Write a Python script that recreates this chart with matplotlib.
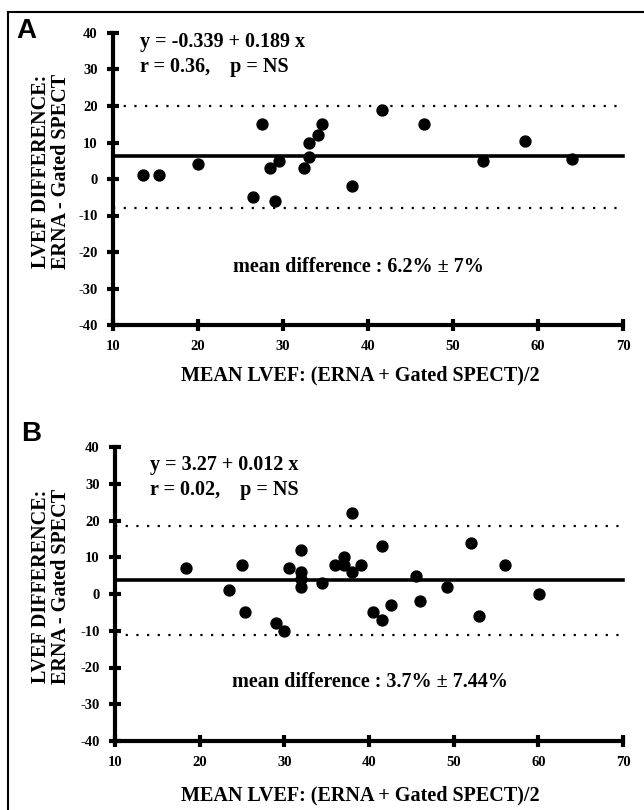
import matplotlib
matplotlib.use('Agg')
import matplotlib.pyplot as plt
from matplotlib.lines import Line2D

# Panel A data (mean LVEF, LVEF difference)
a_mean = [13.5, 15.4, 20.0, 26.5, 27.5, 28.5, 29.1, 29.5, 32.5, 33.0, 33.0,
          34.1, 34.6, 38.1, 41.6, 46.6, 53.5, 58.5, 64.0]
a_diff = [1, 1, 4, -5, 15, 3, -6, 5, 3, 10, 6, 12, 15, -2, 19, 15, 5, 10.5, 5.5]
a_bias = 6.2
a_limits = [20.0, -8.0]
a_eq = ['y = -0.339 + 0.189 x', 'r = 0.36,    p = NS']
a_note = 'mean difference : 6.2% \u00b1 7%'

# Panel B data
b_mean = [18.4, 23.5, 25.0, 25.4, 29.0, 30.0, 30.5, 32.0, 32.0, 32.0, 32.0,
          34.5, 36.0, 37.0, 37.0, 38.0, 38.0, 39.0, 40.5, 41.5, 41.5, 42.6,
          45.5, 46.0, 49.2, 52.1, 53.0, 56.1, 60.1]
b_diff = [7, 1, 8, -5, -8, -10, 7, 12, 6, 4, 2, 3, 8, 10, 8, 22, 6, 8, -5,
          13, -7, -3, 5, -2, 2, 14, -6, 8, 0]
b_bias = 3.9
b_limits = [18.4, -11.2]
b_eq = ['y = 3.27 + 0.012 x', 'r = 0.02,    p = NS']
b_note = 'mean difference : 3.7% \u00b1 7.44%'

x_ticks = [10, 20, 30, 40, 50, 60, 70]
y_ticks = [40, 30, 20, 10, 0, -10, -20, -30, -40]
x_label = 'MEAN LVEF: (ERNA + Gated SPECT)/2'
y_label = 'LVEF DIFFERENCE:\nERNA - Gated SPECT'

serif = 'Liberation Serif'
W, H = 644, 810
TXT = 14.5


def px_box(left, top, right, bottom):
    return [left / W, 1 - bottom / H, (right - left) / W, (bottom - top) / H]


def draw_panel(ax, xs, ys, bias, limits, eq, eq_xy, note, note_xy):
    ax.set_xlim(10, 70)
    ax.set_ylim(-40, 40)
    for s in ['top', 'right']:
        ax.spines[s].set_visible(False)
    for s in ['left', 'bottom']:
        ax.spines[s].set_linewidth(3)
    ax.set_xticks(x_ticks)
    ax.set_yticks(y_ticks)
    ax.set_xticklabels([str(t) for t in x_ticks], fontfamily=serif,
                       fontweight='bold', fontsize=10.5)
    ax.set_yticklabels([str(t) for t in y_ticks], fontfamily=serif,
                       fontweight='bold', fontsize=10.5)
    ax.tick_params(direction='inout', length=8, width=3, pad=7)
    ax.axhline(bias, color='black', lw=2.6, clip_on=False)
    for lim in limits:
        ax.axhline(lim, color='black', lw=1.6, ls=(0, (1, 3.8)), clip_on=False)
    ax.scatter(xs, ys, s=62, color='black', zorder=3, clip_on=False)
    ax.text(eq_xy[0], eq_xy[1], eq[0], fontfamily=serif, fontweight='bold',
            fontsize=TXT, ha='left', va='center')
    ax.text(eq_xy[0], eq_xy[2], eq[1], fontfamily=serif, fontweight='bold',
            fontsize=TXT, ha='left', va='center')
    ax.text(note_xy[0], note_xy[1], note, fontfamily=serif, fontweight='bold',
            fontsize=TXT, ha='center', va='center')


fig = plt.figure(figsize=(6.44, 8.10), dpi=100)

ax_a = fig.add_axes(px_box(113, 33, 623, 325))
draw_panel(ax_a, a_mean, a_diff, a_bias, a_limits, a_eq, (13.2, 37.6, 30.6),
           a_note, (38.9, -24.1))

ax_b = fig.add_axes(px_box(115, 447, 623, 741))
draw_panel(ax_b, b_mean, b_diff, b_bias, b_limits, b_eq, (14.1, 35.1, 28.3),
           b_note, (40.1, -24.0))

# axis titles and panel letters
for ylab_y, xlab_y in [(171, 375), (586, 795)]:
    fig.text(51 / W, 1 - ylab_y / H, y_label, rotation=90, ha='center',
             va='center', fontfamily=serif, fontweight='bold', fontsize=TXT,
             multialignment='center', linespacing=1.0)
    fig.text(360 / W, 1 - xlab_y / H, x_label, ha='center', va='center',
             fontfamily=serif, fontweight='bold', fontsize=TXT)

fig.text(26 / W, 1 - 31 / H, 'A', ha='center', va='center',
         fontfamily='Liberation Sans', fontweight='bold', fontsize=20)
fig.text(31 / W, 1 - 434 / H, 'B', ha='center', va='center',
         fontfamily='Liberation Sans', fontweight='bold', fontsize=20)

# frame around the figure (left and top edges)
fig.add_artist(Line2D([8 / W, 8 / W], [0, 1 - 12 / H], color='black', lw=1.5,
                      transform=fig.transFigure))
fig.add_artist(Line2D([8 / W, 1], [1 - 12 / H, 1 - 12 / H], color='black',
                      lw=1.5, transform=fig.transFigure))

fig.savefig('out.png', dpi=100)
